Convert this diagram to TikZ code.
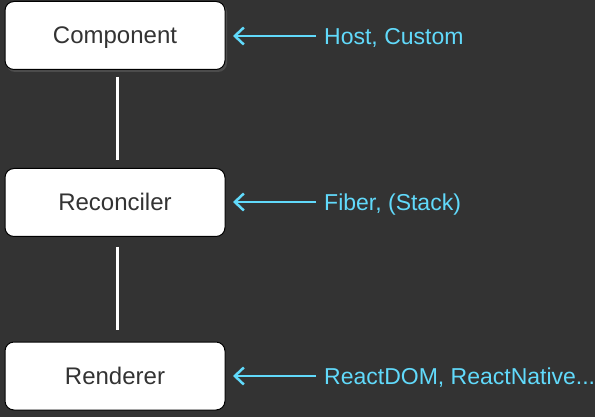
\documentclass[tikz,border=0pt]{standalone}
\usepackage{fontspec}
\setmainfont{Liberation Sans}
\usetikzlibrary{arrows.meta}
\definecolor{bg}{HTML}{333333}
\definecolor{react}{HTML}{61DAFB}
\definecolor{boxtext}{HTML}{333333}
\begin{document}
\begin{tikzpicture}[x=1pt,y=-1pt,
  layer/.style={draw=black, line width=1pt, fill=white, rounded corners=9pt,
    minimum width=220pt, minimum height=68pt, inner sep=0pt,
    text height=17pt, text depth=0pt,
    font=\fontsize{24}{28}\selectfont, text=boxtext},
  link/.style={draw=white, line width=3pt},
  feed/.style={draw=react, line width=2.5pt, -{Straight Barb[length=9pt,width=17pt,line width=2.5pt]}},
  tag/.style={anchor=base west, inner sep=0pt, text=react, font=\fontsize{23}{27}\selectfont}]
\fill[bg] (0,0) rectangle (595,417);
\useasboundingbox (0,0) rectangle (595,417);
\fill[black!60, opacity=0.5, rounded corners=9pt] (6,3) rectangle (227,72);
\node[layer] (comp) at (115,35.5) {Component};
\node[layer] (reco) at (115,202.5) {Reconciler};
\node[layer] (rend) at (115,376) {Renderer};
\coordinate (c1) at (117,77);
\coordinate (c2) at (117,160);
\coordinate (c3) at (117,247);
\coordinate (c4) at (117,330);
\draw[link] (c1) -- (c2);
\draw[link] (c3) -- (c4);
\node[tag] (t1) at (324,45) {Host, Custom};
\node[tag] (t2) at (324,210.5) {Fiber, (Stack)};
\node[tag] (t3) at (324,384) {ReactDOM, ReactNative...};
\coordinate (b1) at (316,36);
\coordinate (b2) at (316,202);
\coordinate (b3) at (316,376);
\coordinate (a1) at (233,36);
\coordinate (a2) at (233,202);
\coordinate (a3) at (233,376);
\draw[feed] (b1) -- (a1);
\draw[feed] (b2) -- (a2);
\draw[feed] (b3) -- (a3);
\end{tikzpicture}
\end{document}
